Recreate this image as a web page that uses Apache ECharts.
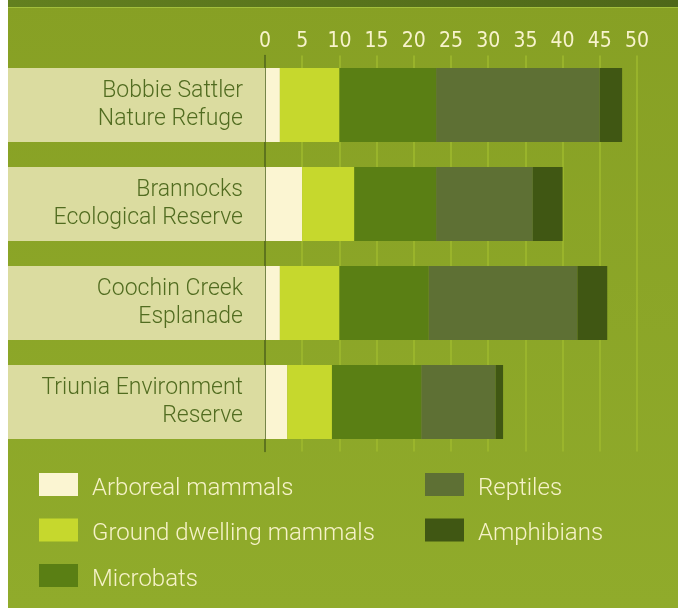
<!DOCTYPE html>
<html>
<head>
<meta charset="utf-8">
<script src="https://cdn.jsdelivr.net/npm/echarts@6/dist/echarts.min.js"></script>
<style>
  html, body { margin: 0; padding: 0; background: #fff; }
  #chart { width: 678px; height: 608px; }
</style>
</head>
<body>
<div id="chart"></div>
<script>
// sites, top to bottom
var sites = ['Bobbie Sattler\nNature Refuge', 'Brannocks\nEcological Reserve', 'Coochin Creek\nEsplanade', 'Triunia Environment\nReserve'];
var groups = ['Arboreal mammals', 'Ground dwelling mammals', 'Microbats', 'Reptiles', 'Amphibians'];
var colors = ['#fbf5d2', '#c6d82d', '#5a7f14', '#5e7034', '#405713'];

// species counts per group, one value per site
var arboreal = [2, 5, 2, 3];
var ground = [8, 7, 8, 6];
var microbats = [13, 11, 12, 12];
var reptiles = [22, 13, 20, 10];
var amphibians = [3, 4, 4, 1];
var values = [arboreal, ground, microbats, reptiles, amphibians];

var chart = echarts.init(document.getElementById('chart'));

var series = groups.map(function (name, i) {
  return {
    name: name,
    type: 'bar',
    stack: 'total',
    barWidth: 74,
    itemStyle: { color: colors[i] },
    data: values[i]
  };
});

// text sits a little below the swatch centre in the original
var legendText = {
  color: '#f6f2c8',
  fontFamily: 'Roboto',
  fontWeight: 300,
  fontSize: 24,
  padding: [0, 0, 0, 9],
  rich: {
    t: {
      color: '#f6f2c8',
      fontFamily: 'Roboto',
      fontWeight: 300,
      fontSize: 24,
      padding: [8, 0, 0, 0]
    }
  }
};

function legendName(name) {
  return '{t|' + name + '}';
}

var option = {
  backgroundColor: {
    type: 'linear', x: 0, y: 0, x2: 0, y2: 1,
    colorStops: [{ offset: 0, color: '#87a024' }, { offset: 1, color: '#90ab2b' }]
  },
  animation: false,
  graphic: [
    { type: 'rect', shape: { x: 0, y: 0, width: 8, height: 608 }, style: { fill: '#fff' }, z: 100 },
    {
      type: 'rect', shape: { x: 8, y: 0, width: 670, height: 7 },
      style: {
        fill: {
          type: 'linear', x: 0, y: 0, x2: 1, y2: 0,
          colorStops: [{ offset: 0, color: '#63801f' }, { offset: 1, color: '#4e6719' }]
        }
      }
    },
    { type: 'rect', shape: { x: 8, y: 7, width: 670, height: 1 }, style: { fill: '#a3bf3c' } }
  ],
  grid: {
    left: 265,
    right: 41,
    top: 55.5,
    height: 396,
    outerBoundsMode: 'none'
  },
  legend: [{
    data: groups.slice(0, 3),
    orient: 'vertical',
    left: 39,
    top: 473,
    padding: 0,
    itemWidth: 39,
    itemHeight: 23,
    itemGap: 18,
    icon: 'rect',
    selectedMode: false,
    formatter: legendName,
    textStyle: legendText
  }, {
    data: groups.slice(3),
    orient: 'vertical',
    left: 425,
    top: 473,
    padding: 0,
    itemWidth: 39,
    itemHeight: 23,
    itemGap: 18,
    icon: 'rect',
    selectedMode: false,
    formatter: legendName,
    textStyle: legendText
  }],
  xAxis: {
    type: 'value',
    position: 'top',
    min: 0,
    max: 50,
    interval: 5,
    axisLine: { show: false },
    axisTick: { show: false },
    axisLabel: {
      color: '#f8f3cc',
      fontFamily: 'DejaVu Sans Condensed',
      fontSize: 21,
      margin: 3
    },
    splitLine: { lineStyle: { color: '#9fba2e', width: 1.5 } }
  },
  yAxis: {
    type: 'category',
    inverse: true,
    data: sites,
    axisLine: { lineStyle: { color: '#4a5f1a', width: 1.5 } },
    axisTick: { show: false },
    axisLabel: {
      interval: 0,
      margin: 0,
      color: '#516c20',
      fontFamily: 'Roboto',
      fontWeight: 300,
      fontSize: 23,
      lineHeight: 27.5,
      align: 'right',
      width: 235,
      backgroundColor: '#dbdca0',
      padding: [9.5, 22, 9.5, 0]
    },
    z: 3
  },
  series: series
};

chart.setOption(option);
</script>
</body>
</html>
